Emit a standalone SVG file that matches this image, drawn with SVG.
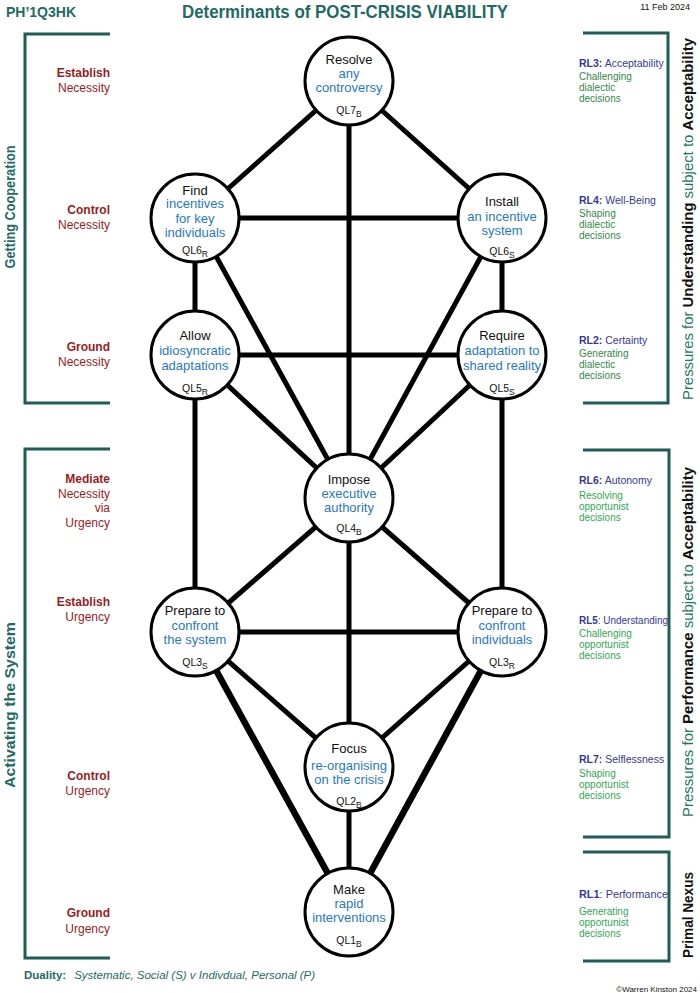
<svg xmlns="http://www.w3.org/2000/svg" width="700" height="993" viewBox="0 0 700 993">
<style>
text{font-family:"Liberation Sans",Arial,sans-serif}
.tl{fill:#1d6b63}
.nk{font-size:13px;fill:#111;text-anchor:middle}
.nb{font-size:13px;fill:#1f78c8;text-anchor:middle}
.ql{font-size:10.5px;fill:#111;text-anchor:middle}
.lr{font-size:12px;fill:#9a1b22;text-anchor:end}
.lrb{font-size:12px;fill:#9a1b22;text-anchor:end;font-weight:bold}
.rl{font-size:10.5px;fill:#35379a}
.gd{font-size:10px;fill:#2f8a44}
.go{font-size:10px;fill:#2ea84f}
.br{fill:none;stroke:#1f5d57;stroke-width:3}
.c{fill:#fff;stroke:#000;stroke-width:3}
.e{stroke:#000;stroke-width:5;stroke-linecap:butt}
.et{stroke:#000;stroke-width:6.5}
</style>
<rect width="700" height="993" fill="#fff"/>
<!-- header -->
<g id="header">
<text x="6" y="17" class="tl" font-size="14" font-weight="bold">PH’1Q3HK</text>
<text x="345" y="18" class="tl" font-size="18" font-weight="bold" text-anchor="middle" textLength="326" lengthAdjust="spacingAndGlyphs">Determinants of POST-CRISIS VIABILITY</text>
<text x="690" y="10" font-size="9" fill="#111" text-anchor="end">11 Feb 2024</text>
</g>
<!-- brackets -->
<g id="brackets">
<path class="br" d="M110,34 H25 V403 H110"/>
<path class="br" d="M110,449 H25 V958 H110"/>
<path class="br" d="M583,33 H668 V403 H583"/>
<path class="br" d="M583,450 H669 V837 H583"/>
<path class="br" d="M583,852 H669 V961 H583"/>
</g>
<g id="side-titles">
<text transform="translate(15,207) rotate(-90)" class="tl" font-size="14" font-weight="bold" text-anchor="middle" textLength="123" lengthAdjust="spacingAndGlyphs">Getting  Cooperation</text>
<text transform="translate(15,705) rotate(-90)" class="tl" font-size="14" font-weight="bold" text-anchor="middle" textLength="166" lengthAdjust="spacingAndGlyphs">Activating  the  System</text>
<text transform="translate(693,219) rotate(-90)" font-size="14" text-anchor="middle" textLength="362" lengthAdjust="spacingAndGlyphs"><tspan fill="#1d7a5e">Pressures for </tspan><tspan fill="#111" font-weight="bold">Understanding </tspan><tspan fill="#1d7a5e"> subject to </tspan><tspan fill="#111" font-weight="bold">Acceptability</tspan></text>
<text transform="translate(693,642) rotate(-90)" font-size="14" text-anchor="middle" textLength="350" lengthAdjust="spacingAndGlyphs"><tspan fill="#1d7a5e">Pressures for </tspan><tspan fill="#111" font-weight="bold">Performance </tspan><tspan fill="#1d7a5e"> subject to </tspan><tspan fill="#111" font-weight="bold">Acceptability</tspan></text>
<text transform="translate(693,915) rotate(-90)" font-size="14" fill="#111" font-weight="bold" text-anchor="middle" textLength="86" lengthAdjust="spacingAndGlyphs">Primal Nexus</text>
</g>
<!-- left labels -->
<g id="left-labels">
<text x="110" y="77" class="lrb">Establish</text><text x="110" y="92" class="lr">Necessity</text>
<text x="110" y="214" class="lrb">Control</text><text x="110" y="229" class="lr">Necessity</text>
<text x="110" y="351" class="lrb">Ground</text><text x="110" y="366" class="lr">Necessity</text>
<text x="110" y="483" class="lrb">Mediate</text><text x="110" y="498" class="lr">Necessity</text><text x="110" y="512" class="lr">via</text><text x="110" y="527" class="lr">Urgency</text>
<text x="110" y="606" class="lrb">Establish</text><text x="110" y="621" class="lr">Urgency</text>
<text x="110" y="780" class="lrb">Control</text><text x="110" y="795" class="lr">Urgency</text>
<text x="110" y="917" class="lrb">Ground</text><text x="110" y="933" class="lr">Urgency</text>
</g>
<!-- right labels -->
<g id="right-labels">
<text x="579" y="67" class="rl"><tspan font-weight="bold">RL3:</tspan> Acceptability</text>
<text x="579" y="79.5" class="gd">Challenging</text><text x="579" y="90.5" class="gd">dialectic</text><text x="579" y="101.5" class="gd">decisions</text>
<text x="579" y="204" class="rl"><tspan font-weight="bold">RL4:</tspan> Well-Being</text>
<text x="579" y="216.5" class="gd">Shaping</text><text x="579" y="227.5" class="gd">dialectic</text><text x="579" y="238.5" class="gd">decisions</text>
<text x="579" y="344" class="rl"><tspan font-weight="bold">RL2:</tspan> Certainty</text>
<text x="579" y="356.5" class="gd">Generating</text><text x="579" y="367.5" class="gd">dialectic</text><text x="579" y="378.5" class="gd">decisions</text>
<text x="579" y="484" class="rl"><tspan font-weight="bold">RL6:</tspan>  Autonomy</text>
<text x="579" y="498.5" class="go">Resolving</text><text x="579" y="509.5" class="go">opportunist</text><text x="579" y="520.5" class="go">decisions</text>
<text x="579" y="624" class="rl" textLength="89" lengthAdjust="spacingAndGlyphs"><tspan font-weight="bold">RL5</tspan>: Understanding</text>
<text x="579" y="636.5" class="go">Challenging</text><text x="579" y="647.5" class="go">opportunist</text><text x="579" y="658.5" class="go">decisions</text>
<text x="579" y="763" class="rl"><tspan font-weight="bold">RL7:</tspan>  Selflessness</text>
<text x="579" y="776.5" class="go">Shaping</text><text x="579" y="787.5" class="go">opportunist</text><text x="579" y="798.5" class="go">decisions</text>
<text x="579" y="898" class="rl" textLength="89" lengthAdjust="spacingAndGlyphs"><tspan font-weight="bold">RL1</tspan>:  Performance</text>
<text x="579" y="914.5" class="go">Generating</text><text x="579" y="925.5" class="go">opportunist</text><text x="579" y="936.5" class="go">decisions</text>
</g>
<!-- connectors -->
<g id="connectors">
<line class="e" x1="349" y1="81" x2="195" y2="218"/>
<line class="e" x1="349" y1="81" x2="502" y2="218"/>
<line class="e" x1="349" y1="81" x2="349" y2="498"/>
<line class="e" x1="195" y1="218" x2="502" y2="218"/>
<line class="e" x1="195" y1="218" x2="195" y2="355"/>
<line class="e" x1="502" y1="218" x2="502" y2="355"/>
<line class="e" x1="195" y1="218" x2="349" y2="498"/>
<line class="e" x1="502" y1="218" x2="349" y2="498"/>
<line class="e" x1="195" y1="355" x2="502" y2="355"/>
<line class="e" x1="195" y1="355" x2="349" y2="498"/>
<line class="e" x1="502" y1="355" x2="349" y2="498"/>
<line class="e" x1="195" y1="355" x2="195" y2="632"/>
<line class="e" x1="502" y1="355" x2="502" y2="632"/>
<line class="e" x1="349" y1="498" x2="195" y2="632"/>
<line class="e" x1="349" y1="498" x2="502" y2="632"/>
<line class="e" x1="349" y1="498" x2="349" y2="767"/>
<line class="e" x1="195" y1="632" x2="502" y2="632"/>
<line class="e" x1="195" y1="632" x2="349" y2="767"/>
<line class="e" x1="502" y1="632" x2="349" y2="767"/>
<line class="et" x1="195" y1="632" x2="349" y2="912"/>
<line class="et" x1="502" y1="632" x2="349" y2="912"/>
<line class="e" x1="349" y1="767" x2="349" y2="912"/>
</g>
<!-- nodes -->
<g id="QL7">
<circle class="c" cx="349" cy="81" r="44"/>
<text x="349" y="63.5" class="nk">Resolve</text>
<text x="349" y="77.5" class="nb">any</text>
<text x="349" y="91.5" class="nb">controversy</text>
<text x="349" y="114" class="ql">QL7<tspan font-size="8.5" dy="3">B</tspan></text>
</g>
<g id="QL6R">
<circle class="c" cx="195" cy="218" r="44"/>
<text x="195" y="194.5" class="nk">Find</text>
<text x="195" y="208" class="nb">incentives</text>
<text x="195" y="222.5" class="nb">for key</text>
<text x="195" y="236.5" class="nb">individuals</text>
<text x="195" y="254" class="ql">QL6<tspan font-size="8.5" dy="3">R</tspan></text>
</g>
<g id="QL6S">
<circle class="c" cx="502" cy="218" r="44"/>
<text x="502" y="205.5" class="nk">Install</text>
<text x="502" y="220.5" class="nb">an incentive</text>
<text x="502" y="234.5" class="nb">system</text>
<text x="502" y="255" class="ql">QL6<tspan font-size="8.5" dy="3">S</tspan></text>
</g>
<g id="QL5R">
<circle class="c" cx="195" cy="355" r="44"/>
<text x="195" y="339.5" class="nk">Allow</text>
<text x="195" y="354.5" class="nb">idiosyncratic</text>
<text x="195" y="369.5" class="nb">adaptations</text>
<text x="195" y="392" class="ql">QL5<tspan font-size="8.5" dy="3">R</tspan></text>
</g>
<g id="QL5S">
<circle class="c" cx="502" cy="355" r="44"/>
<text x="502" y="339.5" class="nk">Require</text>
<text x="502" y="354.5" class="nb">adaptation to</text>
<text x="502" y="369.5" class="nb">shared reality</text>
<text x="502" y="392" class="ql">QL5<tspan font-size="8.5" dy="3">S</tspan></text>
</g>
<g id="QL4">
<circle class="c" cx="349" cy="498" r="44"/>
<text x="349" y="484" class="nk">Impose</text>
<text x="349" y="497.5" class="nb">executive</text>
<text x="349" y="511.5" class="nb">authority</text>
<text x="349" y="532" class="ql">QL4<tspan font-size="8.5" dy="3">B</tspan></text>
</g>
<g id="QL3S">
<circle class="c" cx="195" cy="632" r="44"/>
<text x="195" y="615" class="nk">Prepare to</text>
<text x="195" y="629.5" class="nb">confront</text>
<text x="195" y="644" class="nb">the system</text>
<text x="195" y="666" class="ql">QL3<tspan font-size="8.5" dy="3">S</tspan></text>
</g>
<g id="QL3R">
<circle class="c" cx="502" cy="632" r="44"/>
<text x="502" y="615" class="nk">Prepare to</text>
<text x="502" y="629.5" class="nb">confront</text>
<text x="502" y="644" class="nb">individuals</text>
<text x="502" y="666" class="ql">QL3<tspan font-size="8.5" dy="3">R</tspan></text>
</g>
<g id="QL2">
<circle class="c" cx="349" cy="767" r="44"/>
<text x="349" y="753" class="nk">Focus</text>
<text x="349" y="769.5" class="nb">re-organising</text>
<text x="349" y="783.5" class="nb">on the crisis</text>
<text x="349" y="805" class="ql">QL2<tspan font-size="8.5" dy="3">B</tspan></text>
</g>
<g id="QL1">
<circle class="c" cx="349" cy="912" r="44"/>
<text x="349" y="893.5" class="nk">Make</text>
<text x="349" y="907.5" class="nb">rapid</text>
<text x="349" y="921.5" class="nb">interventions</text>
<text x="349" y="944" class="ql">QL1<tspan font-size="8.5" dy="3">B</tspan></text>
</g>
<!-- footer -->
<g id="footer">
<text x="24" y="979" class="tl" font-size="11.5"><tspan font-weight="bold">Duality:</tspan><tspan dx="8" font-style="italic">Systematic, Social (S)  v  Indivdual, Personal (P)</tspan></text>
<text x="697" y="992" font-size="8" fill="#111" text-anchor="end">©Warren Kinston 2024</text>
</g>
</svg>
